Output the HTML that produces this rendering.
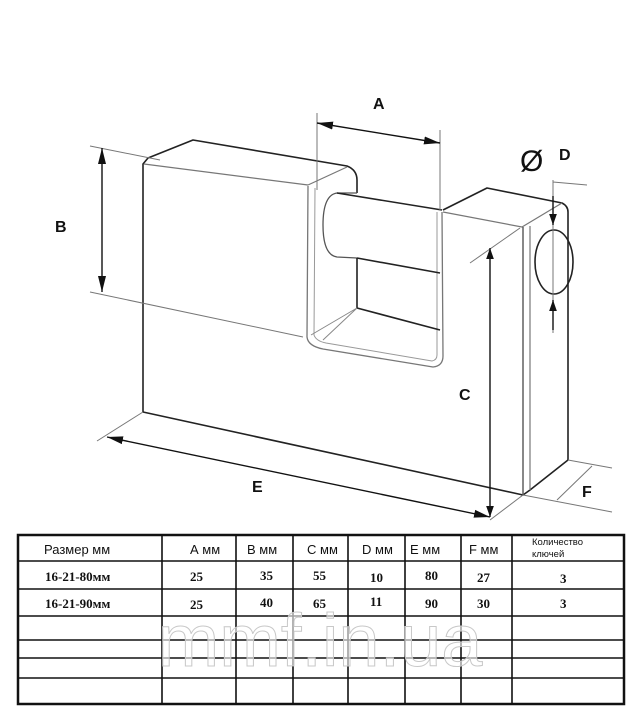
<!DOCTYPE html>
<html><head><meta charset="utf-8"><style>
html,body{margin:0;padding:0;background:#fff;}
svg{display:block;}
.t{font-family:"Liberation Sans",sans-serif;}
.s{font-family:"Liberation Serif",serif;font-weight:bold;}
</style></head><body>
<svg width="640" height="728" viewBox="0 0 640 728" xmlns="http://www.w3.org/2000/svg">
<defs>
<marker id="ar" viewBox="0 0 10 10" refX="10" refY="5" markerWidth="11" markerHeight="11" markerUnits="userSpaceOnUse" orient="auto-start-reverse"><path d="M0,1.5 L10,5 L0,8.5 z" fill="#111"/></marker>
<marker id="ab" viewBox="0 0 10 10" refX="10" refY="5" markerWidth="16" markerHeight="16" markerUnits="userSpaceOnUse" orient="auto-start-reverse"><path d="M0,2.5 L10,5 L0,7.5 z" fill="#111"/></marker>
</defs>
<g fill="none" stroke="#222" stroke-width="1.6" stroke-linejoin="round">
<path d="M143,412 L143,164 L148,158 L193,140 L347,166 Q357,170 357,180 L357,193"/>
<path d="M144,164 L308,185" stroke="#777" stroke-width="1.2"/>
<path d="M308,185 L347,167" stroke="#777" stroke-width="1.2"/>
<path d="M308,186 L307,337 Q308,346 323,349 L433,367 Q443,366 443,356 L442,212" stroke="#777" stroke-width="1.3"/>
<path d="M315,188 L314,335 Q316,341 326,343 L432,361 Q437,360 437,355 L437,212" stroke="#999" stroke-width="1"/>
<path d="M357,193 L337,193 Q323,195 323,225 Q323,255 337,257 L357,258" stroke="#555" stroke-width="1.3"/>
<path d="M337,193 L442,210"/>
<path d="M357,258 L440,273"/>
<path d="M357,258 L357,308 L440,330" stroke="#222"/>
<path d="M357,308 L323,340 M357,308 L311,335" stroke="#888" stroke-width="1"/>
<path d="M443,210 L487,188 L562,203 Q568,206 568,212 L568,460 L530,490 L523,495 L143,412"/>
<path d="M443,212 L522,227 L562,203" stroke="#777" stroke-width="1.2"/>
<path d="M523,227 L523,495" stroke="#555" stroke-width="1.4"/>
<path d="M530,226 L530,490" stroke="#777" stroke-width="1.2"/>
<ellipse cx="554" cy="262" rx="19" ry="32"/>
</g>
<g stroke="#777" stroke-width="1" fill="none">
<path d="M90,146 L160,160 M90,292 L303,337"/>
<path d="M317,113 L317,190 M440,130 L440,210"/>
<path d="M470,263 L520,228"/>
<path d="M553,180 L553,333 M553,182 L587,185"/>
<path d="M97,441 L143,412 M523,495 L490,520"/>
<path d="M568,460 L612,468 M523,495 L612,512 M557,500 L592,466"/>
</g>
<g stroke="#111" stroke-width="1.4" fill="none">
<line x1="102" y1="148" x2="102" y2="292" marker-start="url(#ab)" marker-end="url(#ab)"/>
<line x1="317" y1="123" x2="440" y2="143" marker-start="url(#ab)" marker-end="url(#ab)"/>
<line x1="490" y1="248" x2="490" y2="517" marker-start="url(#ar)" marker-end="url(#ar)"/>
<line x1="107" y1="437" x2="490" y2="517" marker-start="url(#ab)" marker-end="url(#ab)"/>
<line x1="553" y1="196" x2="553" y2="225" marker-end="url(#ar)"/>
<line x1="553" y1="330" x2="553" y2="300" marker-end="url(#ar)"/>
</g>
<g class="t" font-weight="bold" font-size="16" fill="#111">
<text x="373" y="109">A</text>
<text x="55" y="232">B</text>
<text x="459" y="400">C</text>
<text x="520" y="171" font-size="30" font-weight="normal">Ø</text>
<text x="559" y="160">D</text>
<text x="252" y="492">E</text>
<text x="582" y="497">F</text>
</g>
<g stroke="#111" fill="none">
<rect x="18" y="535" width="606" height="169" stroke-width="2.5"/>
<g stroke-width="1.6">
<line x1="18" y1="561" x2="624" y2="561"/>
<line x1="18" y1="589" x2="624" y2="589"/>
<line x1="18" y1="616" x2="624" y2="616"/>
<line x1="18" y1="640" x2="624" y2="640"/>
<line x1="18" y1="658" x2="624" y2="658"/>
<line x1="18" y1="678" x2="624" y2="678"/>
<line x1="162" y1="535" x2="162" y2="704"/>
<line x1="236" y1="535" x2="236" y2="704"/>
<line x1="293" y1="535" x2="293" y2="704"/>
<line x1="348" y1="535" x2="348" y2="704"/>
<line x1="405" y1="535" x2="405" y2="704"/>
<line x1="461" y1="535" x2="461" y2="704"/>
<line x1="512" y1="535" x2="512" y2="704"/>
</g>
</g>
<g class="t" font-size="13" fill="#111">
<text x="44" y="554">Размер мм</text>
<text x="190" y="554">А мм</text>
<text x="247" y="554">В мм</text>
<text x="307" y="554">С мм</text>
<text x="362" y="554">D мм</text>
<text x="410" y="554">Е мм</text>
<text x="469" y="554">F мм</text>
<text x="532" y="545" font-size="9.5">Количество</text>
<text x="532" y="557" font-size="9.5">ключей</text>
</g>
<g class="s" font-size="13" fill="#111">
<text x="45" y="581">16-21-80мм</text>
<text x="190" y="581">25</text><text x="260" y="580">35</text><text x="313" y="580">55</text>
<text x="370" y="582">10</text><text x="425" y="580">80</text><text x="477" y="582">27</text><text x="560" y="583">3</text>
<text x="45" y="608">16-21-90мм</text>
<text x="190" y="609">25</text><text x="260" y="607">40</text><text x="313" y="608">65</text>
<text x="370" y="606">11</text><text x="425" y="608">90</text><text x="477" y="608">30</text><text x="560" y="608">3</text>
</g>
<text x="320" y="666" text-anchor="middle" class="t" font-size="74" fill="#fff" fill-opacity="0.6" stroke="#c8c8c8" stroke-width="1">mmf.in.ua</text>
</svg>
</body></html>
